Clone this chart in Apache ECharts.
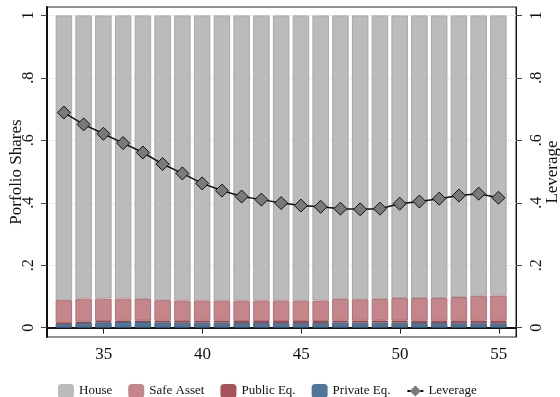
<!DOCTYPE html>
<html>
<head>
<meta charset="utf-8">
<script src="https://cdn.jsdelivr.net/npm/echarts@6/dist/echarts.min.js"></script>
<style>
  html, body { margin: 0; padding: 0; background: #fff; }
  #chart { width: 560px; height: 397px; }
</style>
</head>
<body>
<div id="chart"></div>
<script>
// ages on the x axis
const ages = [33, 34, 35, 36, 37, 38, 39, 40, 41, 42, 43, 44, 45, 46, 47, 48, 49, 50, 51, 52, 53, 54, 55]
// portfolio shares
const privateEq = [0.013, 0.015, 0.017, 0.018, 0.018, 0.017, 0.016, 0.016, 0.016, 0.015, 0.015, 0.015, 0.015, 0.015, 0.016, 0.016, 0.016, 0.016, 0.015, 0.015, 0.014, 0.014, 0.014]
const publicEq = [0.002, 0.004, 0.004, 0.004, 0.005, 0.005, 0.005, 0.006, 0.006, 0.006, 0.006, 0.006, 0.006, 0.006, 0.006, 0.006, 0.007, 0.007, 0.007, 0.007, 0.008, 0.008, 0.008]
const safeAsset = [0.073, 0.074, 0.072, 0.071, 0.069, 0.066, 0.066, 0.065, 0.065, 0.066, 0.066, 0.066, 0.065, 0.066, 0.070, 0.069, 0.069, 0.072, 0.073, 0.073, 0.076, 0.080, 0.081]
const house = [0.912, 0.907, 0.907, 0.907, 0.908, 0.912, 0.913, 0.913, 0.913, 0.913, 0.913, 0.913, 0.914, 0.913, 0.908, 0.909, 0.908, 0.905, 0.905, 0.905, 0.902, 0.898, 0.897]
// leverage (right axis)
const leverage = [0.689, 0.651, 0.621, 0.591, 0.561, 0.524, 0.494, 0.462, 0.439, 0.420, 0.410, 0.399, 0.391, 0.387, 0.381, 0.379, 0.381, 0.397, 0.404, 0.413, 0.423, 0.429, 0.416]
// tick labels
const xTicks = [35, 40, 45, 50, 55]
const yTicks = [0, 0.2, 0.4, 0.6, 0.8, 1]

const fmt = v => (v === 0 || v === 1) ? String(v) : String(v).replace('0.', '.')
const serif = 'Liberation Serif'
const yMin = -0.03
const yMax = 1.027

const myChart = echarts.init(document.getElementById('chart'))

function barSeries (name, arr, color, border) {
  return {
    name: name,
    type: 'bar',
    stack: 'shares',
    xAxisIndex: 1,
    yAxisIndex: 2,
    barWidth: 16.5,
    data: arr,
    itemStyle: { color: color, borderColor: border, borderWidth: 1 },
    emphasis: { disabled: true }
  }
}

function yAxisOf (pos, name, gap, margin) {
  return {
    type: 'value',
    gridIndex: 0,
    position: pos,
    min: yMin,
    max: yMax,
    name: name,
    nameLocation: 'middle',
    nameRotate: 90,
    nameGap: gap,
    nameMoveOverlap: false,
    nameTextStyle: { fontFamily: serif, fontSize: 17, color: '#111' },
    axisLine: { show: true, lineStyle: { color: '#111', width: pos === 'left' ? 2 : 1 } },
    axisTick: { show: true, customValues: yTicks, length: 6, lineStyle: { color: '#444' } },
    axisLabel: {
      customValues: yTicks,
      formatter: fmt,
      rotate: 90,
      margin: margin,
      fontFamily: serif,
      fontSize: 16,
      color: '#111'
    },
    splitLine: { show: pos === 'left', lineStyle: { color: '#eaf0f0', width: 1 } }
  }
}

// hidden axes for the bars and the line, sharing the same vertical scale
function hiddenY () {
  return { type: 'value', gridIndex: 1, min: yMin, max: yMax, show: false, splitLine: { show: false } }
}

const option = {
  animation: false,
  grid: [
    {
      left: 47,
      right: 44,
      top: 7,
      bottom: 60,
      show: true,
      borderColor: '#222',
      borderWidth: 1,
      backgroundColor: '#fff',
      outerBoundsMode: 'none'
    },
    {
      left: 54,
      right: 51.7,
      top: 7,
      bottom: 60,
      outerBoundsMode: 'none'
    }
  ],
  legend: {
    left: 53,
    top: 379,
    itemWidth: 16,
    itemHeight: 14,
    itemGap: 16,
    data: ['House', 'Safe Asset', 'Public Eq.', 'Private Eq.', 'Leverage'],
    itemStyle: { borderWidth: 0 },
    textStyle: { fontFamily: serif, fontSize: 13, color: '#111' }
  },
  xAxis: [
    {
      type: 'value',
      gridIndex: 0,
      min: 32.13,
      max: 55.87,
      axisLine: { show: true, lineStyle: { color: '#111', width: 2 } },
      axisTick: { show: true, customValues: xTicks, length: 6, lineStyle: { color: '#222' } },
      axisLabel: {
        customValues: xTicks,
        margin: 9,
        fontFamily: serif,
        fontSize: 17,
        color: '#111'
      },
      splitLine: { show: false }
    },
    {
      type: 'category',
      gridIndex: 1,
      data: ages,
      show: false
    }
  ],
  yAxis: [
    yAxisOf('left', 'Porfolio Shares', 22, 10),
    yAxisOf('right', 'Leverage', 28, 13),
    hiddenY(),
    hiddenY()
  ],
  series: [
    barSeries('Private Eq.', privateEq, '#50759a', '#44688c'),
    barSeries('Public Eq.', publicEq, '#a65459', '#944449'),
    barSeries('Safe Asset', safeAsset, '#c4868a', '#b36e73'),
    barSeries('House', house, '#bbbbbb', '#a8a8a8'),
    {
      name: 'Leverage',
      type: 'line',
      xAxisIndex: 1,
      yAxisIndex: 3,
      data: leverage,
      symbol: 'diamond',
      symbolSize: 13,
      itemStyle: { color: '#7a7a7a', borderColor: '#111', borderWidth: 1 },
      lineStyle: { color: '#111', width: 1.5 },
      emphasis: { disabled: true },
      z: 5
    }
  ]
}

myChart.setOption(option)
window.addEventListener('resize', () => {
  myChart.resize()
})
</script>
</body>
</html>
